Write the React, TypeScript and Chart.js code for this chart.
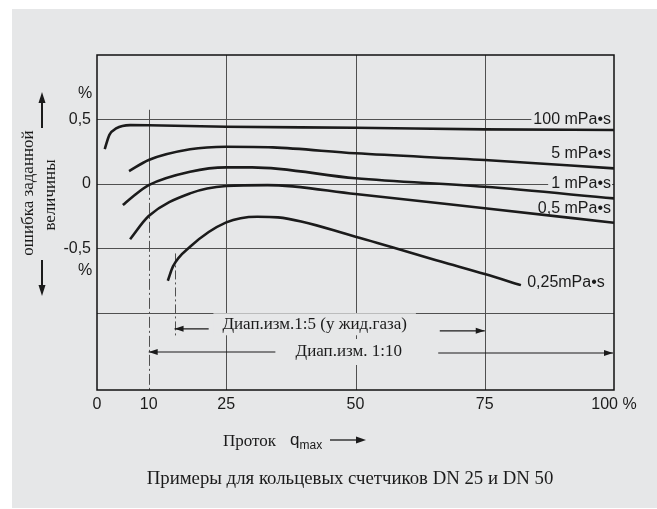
import React, { useEffect, useRef } from "react";
import { Chart, registerables } from "chart.js";

Chart.register(...registerables);

// ---- data ----
const xTicks = [0, 10, 25, 50, 75, 100];
const yTicks = [-0.5, 0, 0.5];
const yTickLabels = ["-0,5", "0", "0,5"];
const xGridFull = [25, 50, 75];
const yGridFull = [-1, -0.5];

const seriesLabels = ["100 mPa•s", "5 mPa•s", "1 mPa•s", "0,5 mPa•s", "0,25mPa•s"];

const x100 = [1.5, 2.4, 3.7, 6.4, 10, 25, 50, 75, 100];
const y100 = [0.27, 0.38, 0.43, 0.456, 0.455, 0.443, 0.435, 0.423, 0.418];

const x5 = [6.2, 10, 18, 25, 34, 50, 75, 100];
const y5 = [0.099, 0.185, 0.268, 0.288, 0.283, 0.237, 0.185, 0.12];

const x1 = [5.0, 6.9, 10, 18, 25, 30, 50, 75, 100];
const y1 = [-0.165, -0.1, -0.01, 0.094, 0.128, 0.128, 0.043, -0.023, -0.113];

const x05 = [6.4, 10, 18, 25, 33, 50, 75, 100];
const y05 = [-0.43, -0.25, -0.074, -0.017, -0.01, -0.079, -0.19, -0.302];

const x025 = [13.7, 14.7, 18, 25, 31, 35, 50, 66.5, 75, 82];
const y025 = [-0.752, -0.64, -0.488, -0.299, -0.255, -0.26, -0.41, -0.603, -0.7, -0.786];

// label anchors (data units on y)
const curveLabelY = [0.5, 0.235, 0.0, -0.19, -0.77];

const rangeLabel5 = "Диап.изм.1:5 (у жид.газа)";
const rangeLabel10 = "Диап.изм. 1:10";
const range5 = [15, 75];
const range10 = [10, 100];

const SANS = "'Liberation Sans', Arial, Helvetica, sans-serif";
const SERIF = "'Liberation Serif', 'Times New Roman', serif";
const BG = "#e6e7e8";
const INK = "#1b1b1b";
const GRID = "#505050";

const decor = {
  id: "decor",
  beforeDraw(chart: any) {
    const ctx = chart.ctx;
    ctx.save();
    ctx.fillStyle = "#ffffff";
    ctx.fillRect(0, 0, chart.width, chart.height);
    ctx.fillStyle = BG;
    ctx.fillRect(12, 9, chart.width - 12, chart.height - 10);
    ctx.restore();
  },
  beforeDatasetsDraw(chart: any) {
    const { ctx, chartArea: a, scales } = chart;
    const xs = scales.x;
    const ys = scales.y;
    const line = (x1: number, y1: number, x2: number, y2: number) => {
      ctx.beginPath();
      ctx.moveTo(x1, y1);
      ctx.lineTo(x2, y2);
      ctx.stroke();
    };
    ctx.save();
    ctx.strokeStyle = GRID;
    ctx.lineWidth = 1;
    yGridFull.forEach((v) => {
      const py = Math.round(ys.getPixelForValue(v)) + 0.5;
      line(a.left, py, a.right, py);
    });
    ctx.font = `16px ${SANS}`;
    const lx = a.right - 3;
    const w0 = ctx.measureText(seriesLabels[0]).width;
    let py = Math.round(ys.getPixelForValue(0.5)) + 0.5;
    line(a.left, py, lx - w0 - 2, py);
    const w2 = ctx.measureText(seriesLabels[2]).width;
    py = Math.round(ys.getPixelForValue(0)) + 0.5;
    line(a.left, py, lx - w2 - 3, py);
    line(lx + 1, py, a.right, py);
    xGridFull.forEach((v) => {
      const px = Math.round(xs.getPixelForValue(v)) + 0.5;
      line(px, a.top, px, a.bottom);
    });
    let px = Math.round(xs.getPixelForValue(10)) + 0.5;
    line(px, ys.getPixelForValue(0.575), px, ys.getPixelForValue(0));
    ctx.setLineDash([11, 3, 2, 3]);
    line(px, ys.getPixelForValue(0), px, a.bottom);
    px = Math.round(xs.getPixelForValue(15)) + 0.5;
    ctx.setLineDash([9, 3, 2, 3]);
    line(px, ys.getPixelForValue(-0.54), px, ys.getPixelForValue(-1.18));
    ctx.setLineDash([]);
    ctx.strokeStyle = "#111";
    ctx.lineWidth = 1.5;
    ctx.strokeRect(a.left, a.top, a.right - a.left, a.bottom - a.top);
    ctx.restore();
  },
  afterDraw(chart: any) {
    const { ctx, chartArea: a, scales } = chart;
    const xs = scales.x;
    const ys = scales.y;
    ctx.save();
    ctx.fillStyle = INK;
    ctx.strokeStyle = INK;

    ctx.font = `16px ${SANS}`;
    ctx.textBaseline = "middle";
    seriesLabels.forEach((t, i) => {
      const py = ys.getPixelForValue(curveLabelY[i]);
      if (i === 4) {
        ctx.textAlign = "left";
        ctx.fillText(t, xs.getPixelForValue(83.2), py);
      } else {
        ctx.textAlign = "right";
        ctx.fillText(t, a.right - 3, py);
      }
    });

    const arrowHead = (x: number, y: number, dir: number, len = 9, hw = 3) => {
      ctx.beginPath();
      ctx.moveTo(x, y);
      ctx.lineTo(x - dir * len, y - hw);
      ctx.lineTo(x - dir * len, y + hw);
      ctx.closePath();
      ctx.fill();
    };
    const hArrow = (x1: number, x2: number, y: number) => {
      ctx.lineWidth = 1.2;
      ctx.beginPath();
      ctx.moveTo(x1, y);
      ctx.lineTo(x2, y);
      ctx.stroke();
      arrowHead(x2, y, x2 > x1 ? 1 : -1);
    };
    const boxText = (t: string, cx: number, cy: number, font: string, padX: number, h: number) => {
      ctx.font = font;
      const w = ctx.measureText(t).width;
      ctx.fillStyle = BG;
      ctx.fillRect(cx - w / 2 - padX, cy - h / 2, w + 2 * padX, h);
      ctx.fillStyle = INK;
      ctx.textAlign = "center";
      ctx.textBaseline = "middle";
      ctx.fillText(t, cx, cy);
    };

    const yr5 = ys.getPixelForValue(-1.125);
    const yr10 = ys.getPixelForValue(-1.305);
    boxText(rangeLabel5, xs.getPixelForValue(42.1), ys.getPixelForValue(-1.09), `17px ${SERIF}`, 9, 22);
    boxText(rangeLabel10, xs.getPixelForValue(48.7), yr10, `17px ${SERIF}`, 14, 26);
    ctx.fillStyle = INK;
    hArrow(xs.getPixelForValue(21.6), xs.getPixelForValue(range5[0]), yr5);
    hArrow(xs.getPixelForValue(66.3), xs.getPixelForValue(range5[1]), yr5 + 2);
    hArrow(xs.getPixelForValue(34.5), xs.getPixelForValue(range10[0]), yr10);
    hArrow(xs.getPixelForValue(66), xs.getPixelForValue(range10[1]) - 1, yr10 + 1);

    ctx.font = `16px ${SANS}`;
    ctx.textAlign = "center";
    ctx.textBaseline = "middle";
    ctx.fillText("%", 85, 94);
    ctx.fillText("%", 85, 271);

    ctx.font = `17px ${SERIF}`;
    ctx.save();
    ctx.translate(29, 193);
    ctx.rotate(-Math.PI / 2);
    ctx.fillText("ошибка заданной", 0, 0);
    ctx.restore();
    ctx.save();
    ctx.translate(51, 195);
    ctx.rotate(-Math.PI / 2);
    ctx.fillText("величины", 0, 0);
    ctx.restore();

    ctx.lineWidth = 2;
    ctx.beginPath();
    ctx.moveTo(42, 128);
    ctx.lineTo(42, 100);
    ctx.stroke();
    ctx.beginPath();
    ctx.moveTo(42, 92);
    ctx.lineTo(38.5, 103);
    ctx.lineTo(45.5, 103);
    ctx.closePath();
    ctx.fill();
    ctx.beginPath();
    ctx.moveTo(42, 260);
    ctx.lineTo(42, 288);
    ctx.stroke();
    ctx.beginPath();
    ctx.moveTo(42, 296);
    ctx.lineTo(38.5, 285);
    ctx.lineTo(45.5, 285);
    ctx.closePath();
    ctx.fill();

    ctx.textAlign = "left";
    ctx.textBaseline = "alphabetic";
    ctx.font = `17px ${SERIF}`;
    ctx.fillText("Проток", 223, 446);
    ctx.font = `17px ${SANS}`;
    ctx.fillText("q", 290, 445);
    ctx.font = `12px ${SANS}`;
    ctx.fillText("max", 299.5, 449);
    ctx.lineWidth = 1.3;
    ctx.beginPath();
    ctx.moveTo(330, 440);
    ctx.lineTo(360, 440);
    ctx.stroke();
    ctx.beginPath();
    ctx.moveTo(366, 440);
    ctx.lineTo(356, 436.5);
    ctx.lineTo(356, 443.5);
    ctx.closePath();
    ctx.fill();

    ctx.font = `18.8px ${SERIF}`;
    ctx.textAlign = "center";
    ctx.textBaseline = "alphabetic";
    ctx.fillText("Примеры для кольцевых счетчиков DN 25 и DN 50", 350, 484);

    ctx.restore();
  },
};

export default function App() {
  const ref = useRef<HTMLCanvasElement>(null);
  useEffect(() => {
    const canvas = ref.current!;
    const series: [number[], number[]][] = [
      [x100, y100],
      [x5, y5],
      [x1, y1],
      [x05, y05],
      [x025, y025],
    ];
    const chart = new Chart(canvas, {
      type: "scatter",
      data: {
        datasets: series.map((s, i) => ({
          label: seriesLabels[i],
          data: s[0].map((v, j) => ({ x: v, y: s[1][j] })),
          showLine: true,
          borderColor: INK,
          borderWidth: 2.6,
          pointRadius: 0,
          pointHoverRadius: 0,
          cubicInterpolationMode: "monotone" as const,
          fill: false,
        })),
      },
      options: {
        responsive: false,
        animation: false,
        events: [],
        layout: { padding: { top: 55, right: 43, left: 0, bottom: 0 } },
        plugins: { legend: { display: false }, tooltip: { enabled: false } },
        scales: {
          x: {
            type: "linear",
            min: 0,
            max: 100,
            grid: { display: false, drawTicks: false },
            border: { display: false },
            afterBuildTicks: (s: any) => {
              s.ticks = xTicks.map((v) => ({ value: v }));
            },
            afterFit: (s: any) => {
              s.height = 119;
            },
            ticks: {
              autoSkip: false,
              maxRotation: 0,
              padding: 5,
              color: INK,
              font: { family: SANS, size: 16 },
              callback: (v: any) => (v === 100 ? "100 %" : String(v)),
            },
          },
          y: {
            type: "linear",
            min: -1.6,
            max: 1.0,
            grid: { display: false, drawTicks: false },
            border: { display: false },
            afterBuildTicks: (s: any) => {
              s.ticks = yTicks.map((v) => ({ value: v }));
            },
            afterFit: (s: any) => {
              s.width = 97;
            },
            ticks: {
              padding: 6,
              color: INK,
              font: { family: SANS, size: 16 },
              callback: (_v: any, i: number) => yTickLabels[i],
            },
          },
        },
      },
      plugins: [decor],
    } as any);
    return () => chart.destroy();
  }, []);
  return (
    <div style={{ position: "fixed", left: 0, top: 0, width: 657, height: 509, background: "#fff" }}>
      <canvas ref={ref} width={657} height={509} style={{ display: "block", width: 657, height: 509 }} />
    </div>
  );
}
